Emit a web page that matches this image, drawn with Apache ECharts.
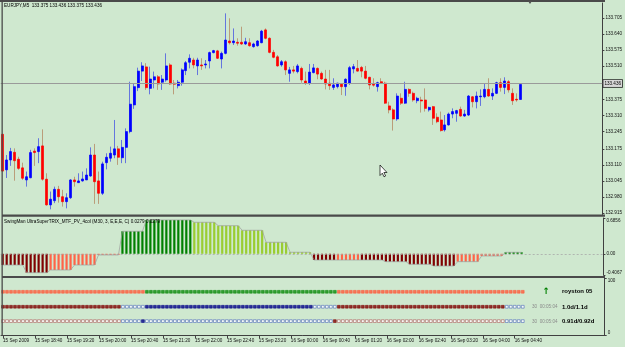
<!DOCTYPE html>
<html>
<head>
<meta charset="utf-8">
<script src="https://cdn.jsdelivr.net/npm/echarts@6/dist/echarts.min.js"></script>
<style>
html,body{margin:0;padding:0;background:#cfe8cf}
#main{width:625px;height:347px}
</style>
</head>
<body>
<div id="main"></div>
<script>
// EURJPY M5, 15 Sep 18:00 .. 16 Sep 04:50
var barOpen=[133.234,133.090,133.130,133.161,133.133,133.098,133.049,133.058,133.166,133.164,
133.187,133.052,132.948,132.965,133.011,132.981,132.961,132.977,133.049,133.038,
133.045,133.049,133.065,133.150,133.045,132.995,133.119,133.137,133.150,133.175,
133.139,133.181,133.245,133.353,133.423,133.490,133.507,133.420,133.454,133.467,
133.445,133.454,133.515,133.441,133.431,133.445,133.492,133.526,133.535,133.511,
133.515,133.515,133.531,133.565,133.572,133.539,133.562,133.612,133.605,133.607,
133.607,133.600,133.605,133.589,133.593,133.605,133.657,133.623,133.566,133.548,
133.515,133.528,133.481,133.495,133.488,133.501,133.450,133.442,133.484,133.501,
133.481,133.458,133.441,133.424,133.427,133.437,133.427,133.441,133.499,133.501,
133.505,133.490,133.465,133.437,133.427,133.447,133.441,133.349,133.333,133.296,
133.380,133.360,133.416,133.400,133.370,133.373,133.373,133.333,133.346,133.303,
133.292,133.252,133.272,133.316,133.319,133.335,133.308,133.312,133.386,133.366,
133.386,133.386,133.416,133.389,133.400,133.443,133.424,133.447,133.400,133.376,
133.375]
var barHigh=[133.236,133.150,133.179,133.177,133.143,133.119,133.083,133.171,133.177,133.218,
133.254,133.076,133.002,133.022,133.025,133.009,132.995,133.052,133.062,133.076,
133.083,133.096,133.181,133.195,133.083,133.123,133.157,133.184,133.292,133.187,
133.211,133.258,133.447,133.441,133.504,133.526,133.522,133.508,133.488,133.474,
133.474,133.562,133.522,133.454,133.454,133.501,133.531,133.558,133.544,133.544,
133.542,133.535,133.569,133.576,133.576,133.569,133.724,133.704,133.663,133.623,
133.670,133.625,133.623,133.605,133.616,133.657,133.663,133.627,133.576,133.555,
133.535,133.534,133.507,133.511,133.519,133.508,133.488,133.519,133.519,133.505,
133.488,133.495,133.495,133.461,133.443,133.441,133.461,133.511,133.519,133.535,
133.511,133.511,133.467,133.461,133.447,133.461,133.447,133.366,133.339,133.400,
133.400,133.447,133.420,133.407,133.386,133.386,133.420,133.346,133.349,133.319,
133.326,133.312,133.322,133.339,133.333,133.346,133.333,133.393,133.389,133.407,
133.416,133.441,133.461,133.420,133.447,133.461,133.465,133.454,133.420,133.400,
133.436]
var barLow=[133.083,133.057,133.106,133.046,133.090,133.049,133.022,133.056,133.106,133.117,
133.046,132.945,132.930,132.955,132.957,132.941,132.934,132.972,133.022,133.038,
133.042,133.049,133.062,132.952,132.952,132.988,133.092,133.123,133.137,133.110,
133.117,133.117,133.238,133.337,133.409,133.450,133.414,133.396,133.420,133.414,
133.414,133.447,133.434,133.396,133.420,133.431,133.474,133.501,133.501,133.474,
133.495,133.501,133.501,133.562,133.539,133.501,133.558,133.598,133.596,133.593,
133.596,133.596,133.589,133.585,133.589,133.603,133.619,133.562,133.542,133.508,
133.508,133.474,133.447,133.481,133.481,133.443,133.434,133.434,133.481,133.457,
133.455,133.416,133.414,133.414,133.420,133.393,133.390,133.434,133.481,133.488,
133.465,133.457,133.416,133.427,133.407,133.441,133.357,133.319,133.249,133.289,
133.353,133.357,133.386,133.366,133.360,133.322,133.326,133.326,133.272,133.279,
133.245,133.245,133.269,133.299,133.285,133.305,133.305,133.308,133.343,133.339,
133.349,133.380,133.386,133.373,133.397,133.407,133.397,133.403,133.353,133.366,
133.375]
var barClose=[133.085,133.130,133.164,133.127,133.096,133.056,133.062,133.160,133.160,133.184,
133.052,132.948,132.971,133.011,132.981,132.961,132.977,133.049,133.042,133.045,
133.053,133.069,133.150,133.042,132.995,133.114,133.141,133.157,133.175,133.141,
133.181,133.245,133.356,133.427,133.490,133.511,133.423,133.458,133.467,133.438,
133.458,133.511,133.438,133.437,133.445,133.495,133.524,133.542,133.515,133.535,
133.511,133.519,133.565,133.573,133.542,133.562,133.616,133.605,133.612,133.603,
133.600,133.609,133.593,133.600,133.612,133.652,133.623,133.566,133.546,133.511,
133.528,133.495,133.495,133.490,133.511,133.454,133.442,133.486,133.503,133.478,
133.458,133.438,133.431,133.434,133.441,133.427,133.457,133.504,133.508,133.490,
133.490,133.461,133.434,133.433,133.443,133.442,133.360,133.333,133.296,133.389,
133.360,133.416,133.400,133.373,133.380,133.369,133.339,133.343,133.299,133.285,
133.249,133.272,133.316,133.326,133.330,133.308,133.316,133.389,133.366,133.389,
133.389,133.416,133.389,133.400,133.443,133.424,133.450,133.414,133.370,133.373,
133.436]

var priceTicks=[132.915,132.980,133.045,133.110,133.175,133.245,133.310,133.375,133.510,133.575,133.640,133.705]
var timeLabels=['15 Sep 2009','15 Sep 18:40','15 Sep 19:20','15 Sep 20:00','15 Sep 20:40','15 Sep 21:20',
'15 Sep 22:00','15 Sep 22:40','15 Sep 23:20','16 Sep 00:00','16 Sep 00:40','16 Sep 01:20',
'16 Sep 02:00','16 Sep 02:40','16 Sep 03:20','16 Sep 04:00','16 Sep 04:40']

// TRIX histogram, one value per M30 bar (= 6 M5 bars)
var trixM30=[-0.215,-0.362,-0.310,-0.215,-0.023,0.431,0.648,0.648,0.603,0.538,0.450,0.220,0.029,
-0.119,-0.119,-0.119,-0.151,-0.201,-0.234,-0.151,-0.042,0.0279]
var trixColor=['dr','dr','tm','tm','tm','dg','dg','dg','yg','yg','yg','yg','yg',
'dr','tm','dr','dr','dr','dr','tm','tm','dg']
var trixTicks=[-0.4067,0,0.6856]
var trixTickText=['-0.4067','0.00','0.6856']

// signal rows in the lower window: [fromBar, toBar, state]
var rowLevels=[76,50,25]
var row1Segs=[[0,35,'T'],[36,83,'G'],[84,130,'T']]
var row2Segs=[[0,29,'M'],[30,35,'b'],[36,77,'N'],[78,83,'b'],[84,125,'M'],[126,130,'b']]
var row3Segs=[[0,29,'m'],[30,34,'b'],[35,35,'N'],[36,82,'b'],[83,83,'M'],[84,125,'m'],[126,130,'b']]

var nBars=barOpen.length
var nSlots=151
var colors={dr:'#800000',tm:'#ff6347',dg:'#008000',yg:'#9acd32'}
var sq={T:['#ff5a3a','#ff5a3a'],G:['#0a8a0a','#0a8a0a'],M:['#800000','#800000'],N:['#000088','#000088'],
	b:['#ffffff','#4060b8'],m:['#ffffff','#a85050']}
var font='Liberation Sans'

var cats=[]
for(var i=0;i<nSlots;i++){
	var mins=18*60+i*5
	var hh=Math.floor(mins/60)%24,mm=mins%60
	cats.push((mins>=1440?'16':'15')+' Sep '+(hh<10?'0':'')+hh+':'+(mm<10?'0':'')+mm)
}

var wickData=[],bodyData=[]
for(var i=0;i<nBars;i++){
	wickData.push([barOpen[i],barClose[i],barLow[i],barHigh[i]])
	bodyData.push([barOpen[i],barClose[i],Math.min(barOpen[i],barClose[i]),Math.max(barOpen[i],barClose[i])])
}

var histData=[],histLine=[]
for(var i=0;i<nBars;i++){
	var g=Math.floor(i/6)
	histData.push({value:trixM30[g],itemStyle:{color:colors[trixColor[g]]}})
	histLine.push(trixM30[g])
}

function rowPoints(segs,level){
	var out=[]
	segs.forEach(function(s){
		for(var i=s[0];i<=s[1];i++){
			var c=sq[s[2]]
			out.push({value:[i,level],itemStyle:{color:c[0],borderColor:c[1],borderWidth:0.7}})
		}
	})
	return out
}

var last=nBars-1
var lastPrice=barClose[last]
var head='EURJPY,M5  '+barOpen[last].toFixed(3)+' '+barHigh[last].toFixed(3)+' '+barLow[last].toFixed(3)+' '+barClose[last].toFixed(3)

var lbl={fontSize:4.6,color:'#101010',fontFamily:font}
var axCol='#404040'

var chart=echarts.init(document.getElementById('main'))
var option={
	animation:false,
	backgroundColor:'#cfe8cf',
	title:[
		{text:head,left:4,top:3,padding:0,textStyle:{fontSize:4.6,fontWeight:'normal',color:'#000',fontFamily:font}},
		{text:'SwingMan UltraSuperTRIX_MTF_PV_4col (M30, 3, E,E,E, C) 0.0279 0.0279',left:4,top:219,padding:0,
			textStyle:{fontSize:4.6,fontWeight:'normal',color:'#000',fontFamily:font}}
	],
	grid:[
		{left:0.7,width:604,top:3,height:211.5},
		{left:0.7,width:604,top:218,height:57},
		{left:0.7,width:604,top:278,height:57.5}
	],
	xAxis:[
		{gridIndex:0,type:'category',data:cats,show:false},
		{gridIndex:1,type:'category',data:cats,show:false},
		{gridIndex:2,type:'category',data:cats,
			axisLine:{show:true,lineStyle:{color:axCol,width:1}},
			axisTick:{show:true,alignWithLabel:true,length:3,lineStyle:{color:axCol},
				interval:function(i){return i%8===0&&i<=128}},
			axisLabel:{show:true,align:'left',margin:3,fontSize:4.6,color:'#101010',fontFamily:font,
				interval:function(i){return i%8===0&&i<=128},
				formatter:function(v,i){return timeLabels[i/8]||''}}
		}
	],
	yAxis:[
		{gridIndex:0,type:'value',position:'right',min:132.909,max:133.766,splitLine:{show:false},
			axisLine:{show:true,lineStyle:{color:axCol}},
			axisTick:{show:true,length:2,customValues:priceTicks,lineStyle:{color:axCol}},
			axisLabel:Object.assign({margin:3,customValues:priceTicks,formatter:function(v){return v.toFixed(3)}},lbl)
		},
		{gridIndex:1,type:'value',position:'right',min:-0.4067,max:0.6856,splitLine:{show:false},
			axisLine:{show:true,lineStyle:{color:axCol}},
			axisTick:{show:true,length:2,customValues:trixTicks,lineStyle:{color:axCol}},
			axisLabel:Object.assign({margin:3,customValues:trixTicks,verticalAlignMinLabel:'bottom',verticalAlignMaxLabel:'top',
				formatter:function(v){return trixTickText[trixTicks.indexOf(v)]}},lbl)
		},
		{gridIndex:2,type:'value',position:'right',min:0,max:100,splitLine:{show:false},
			axisLine:{show:true,lineStyle:{color:axCol}},
			axisTick:{show:true,length:2,customValues:[0,100],lineStyle:{color:axCol}},
			axisLabel:Object.assign({margin:3,customValues:[0,100],verticalAlignMinLabel:'bottom',verticalAlignMaxLabel:'top'},lbl)
		}
	],
	series:[
		{name:'wick',type:'candlestick',xAxisIndex:0,yAxisIndex:0,data:wickData,barWidth:1,
			itemStyle:{color:'#5868e0',color0:'#b89470',borderColor:'#5868e0',borderColor0:'#b89470',borderWidth:0.9}},
		{name:'body',type:'candlestick',xAxisIndex:0,yAxisIndex:0,data:bodyData,barWidth:2.5,
			itemStyle:{color:'#0000ff',color0:'#ff0000',borderColor:'#0000ff',borderColor0:'#ff0000',borderWidth:0.7},
			markLine:{silent:true,symbol:['none','none'],data:[{yAxis:lastPrice}],
				lineStyle:{color:'#9a9a9a',width:1,type:'solid'},
				label:{show:true,position:'end',distance:1,formatter:lastPrice.toFixed(3),fontSize:4.6,fontFamily:font,
					color:'#000',backgroundColor:'#d8d8d8',borderColor:'#202020',borderWidth:0.8,padding:[1,1,1,1]}}
		},
		{name:'zero',type:'line',xAxisIndex:1,yAxisIndex:1,data:[],z:1,
			markLine:{silent:true,symbol:['none','none'],data:[{yAxis:0}],label:{show:false},
				lineStyle:{color:'#a8a8a8',width:0.8,type:[2,2]}}},
		{name:'trix',type:'bar',xAxisIndex:1,yAxisIndex:1,data:histData,barWidth:2.2,z:2},
		{name:'trixLine',type:'line',xAxisIndex:1,yAxisIndex:1,data:histLine,symbol:'none',z:3,
			lineStyle:{color:'#9c9c9c',width:0.7}},
		{name:'row1',type:'scatter',xAxisIndex:2,yAxisIndex:2,symbol:'rect',symbolSize:2.8,data:rowPoints(row1Segs,rowLevels[0])},
		{name:'row2',type:'scatter',xAxisIndex:2,yAxisIndex:2,symbol:'rect',symbolSize:2.8,data:rowPoints(row2Segs,rowLevels[1])},
		{name:'row3',type:'scatter',xAxisIndex:2,yAxisIndex:2,symbol:'rect',symbolSize:2.8,data:rowPoints(row3Segs,rowLevels[2])}
	],
	graphic:[
		// window frame
		{type:'rect',shape:{x:0,y:0,width:605,height:2},style:{fill:'#4a4a4a'},z:100},
		{type:'rect',shape:{x:1.5,y:0,width:1.3,height:336},style:{fill:'#4a4a4a'},z:100},
		{type:'rect',shape:{x:2,y:214.5,width:603,height:2.2},style:{fill:'#4a4a4a'},z:100},
		{type:'rect',shape:{x:2,y:276,width:603,height:2},style:{fill:'#4a4a4a'},z:100},
		{type:'polygon',shape:{points:[[528,1],[532,1],[530,4]]},style:{fill:'#505050'},z:101},
		// labels of the signal rows
		{type:'text',x:542.5,y:291.5,style:{text:'↑',fill:'#008000',font:'bold 9px DejaVu Sans',textVerticalAlign:'middle'}},
		{type:'text',x:562,y:291.5,style:{text:'royston 05',fill:'#000',font:'bold 6px '+font,textVerticalAlign:'middle'}},
		{type:'text',x:532,y:307,style:{text:'30  00:05:04',fill:'#8a8a8a',font:'4.6px '+font,textVerticalAlign:'middle'}},
		{type:'text',x:562,y:307,style:{text:'1.0d/1.1d',fill:'#000',font:'bold 6px '+font,textVerticalAlign:'middle'}},
		{type:'text',x:532,y:321.5,style:{text:'30  00:05:04',fill:'#8a8a8a',font:'4.6px '+font,textVerticalAlign:'middle'}},
		{type:'text',x:562,y:321.5,style:{text:'0.91d/0.92d',fill:'#000',font:'bold 6px '+font,textVerticalAlign:'middle'}},
		// mouse pointer
		{type:'polygon',shape:{points:[[380,165],[380,175.5],[382.3,173.2],[384,176.8],[385.6,176],[383.9,172.5],[387,172.5]]},
			style:{fill:'#ffffff',stroke:'#000',lineWidth:0.7},z:102}
	]
}
chart.setOption(option)
</script>
</body>
</html>
